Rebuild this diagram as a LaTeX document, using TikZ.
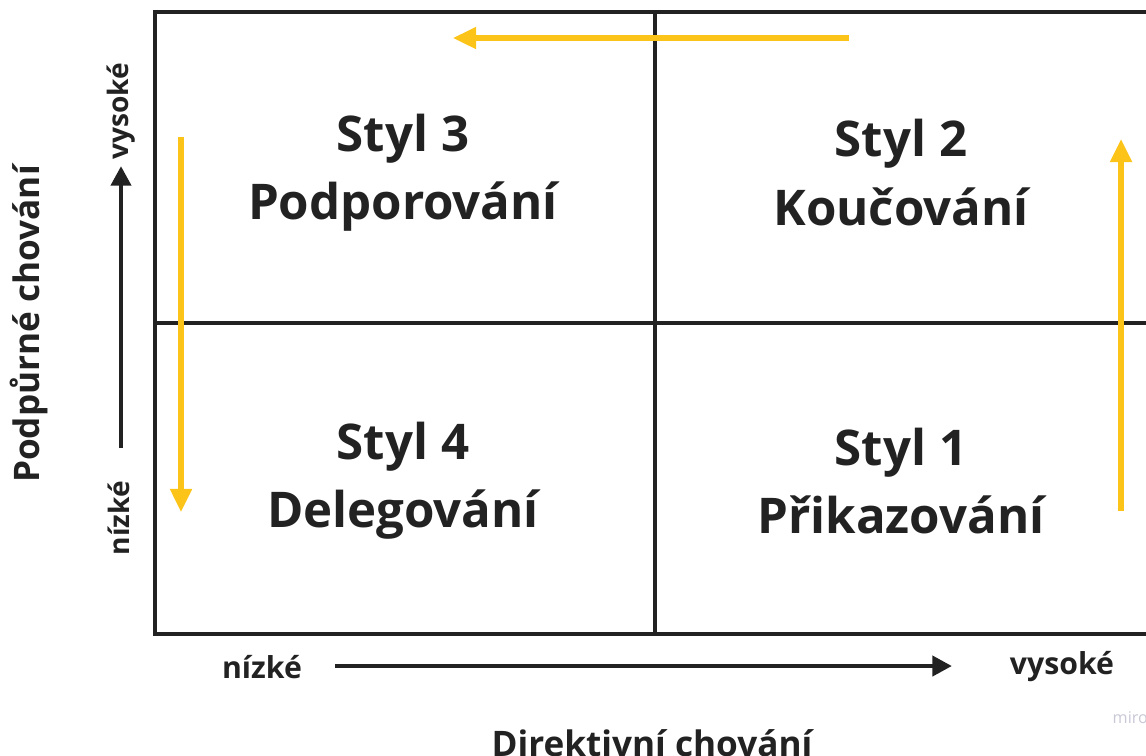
\documentclass[tikz,border=0pt]{standalone}
\usepackage{fontspec}
\setmainfont{Open Sans}
\usetikzlibrary{arrows.meta}
\definecolor{ink}{RGB}{34,34,34}
\definecolor{flow}{RGB}{252,196,25}
\definecolor{mark}{RGB}{200,200,214}
\tikzset{
  grid/.style={draw=ink,line width=1.1pt},
  stylename/.style={text=ink,font=\bfseries\fontsize{14}{19.4}\selectfont,align=center},
  axislabel/.style={text=ink,font=\bfseries\fontsize{8.6}{10}\selectfont},
  sidelabel/.style={text=ink,font=\bfseries\fontsize{8}{10}\selectfont,rotate=90},
  axistitle/.style={text=ink,font=\bfseries\fontsize{10}{12}\selectfont},
  axisarrow/.style={draw=ink,line width=1.4pt,-{Triangle[width=5.6pt,length=5.6pt]}},
  flowarrow/.style={draw=flow,line width=1.45pt,-{Triangle[width=6pt,length=6.6pt]}}
}
\begin{document}
\begin{tikzpicture}[x=0.1mm,y=-0.1mm]
    \useasboundingbox (0,0) rectangle (1146,755);
    \begin{scope}
        \clip (0,0) rectangle (1146,755);
        %% quadrants
        \draw[grid] (155,12) rectangle (1160,634);
        \draw[grid] (655,12) -- (655,634);
        \draw[grid] (155,323) -- (1160,323);
        %% styles
        \node[stylename] (s3) at (403,172.5) {Styl 3\\Podporování};
        \node[stylename] (s2) at (901,172.5) {Styl 2\\Koučování};
        \node[stylename] (s4) at (403,481) {Styl 4\\Delegování};
        \node[stylename] (s1) at (901,481) {Styl 1\\Přikazování};
        %% yellow path through the styles
        \coordinate (p1) at (1121,511);
        \coordinate (p2) at (1121,139);
        \coordinate (p3) at (849,38);
        \coordinate (p4) at (453,38);
        \coordinate (p5) at (181,137);
        \coordinate (p6) at (181,512);
        \draw[flowarrow] (p1) -- (p2);
        \draw[flowarrow] (p3) -- (p4);
        \draw[flowarrow] (p5) -- (p6);
        %% vertical axis
        \node[sidelabel] (vlow) at (119,518) {nízké};
        \node[sidelabel] (vhigh) at (121,111) {vysoké};
        \coordinate (va) at (121,448);
        \coordinate (vb) at (121,166);
        \draw[axisarrow] (va) -- (vb);
        \node[axistitle,rotate=90] (vtitle) at (29,324) {Podpůrné chování};
        %% horizontal axis
        \node[axislabel] (hlow) at (262,667) {nízké};
        \node[axislabel] (hhigh) at (1062,667) {vysoké};
        \coordinate (ha) at (335,666);
        \coordinate (hb) at (952,666);
        \draw[axisarrow] (ha) -- (hb);
        \node[axistitle] (htitle) at (652,743) {Direktivní chování};
        %% watermark
        \node[text=mark,font=\fontsize{4.6}{5}\selectfont,anchor=west,inner sep=0pt] (wm) at (1112,718) {miro};
    \end{scope}
\end{tikzpicture}
\end{document}
